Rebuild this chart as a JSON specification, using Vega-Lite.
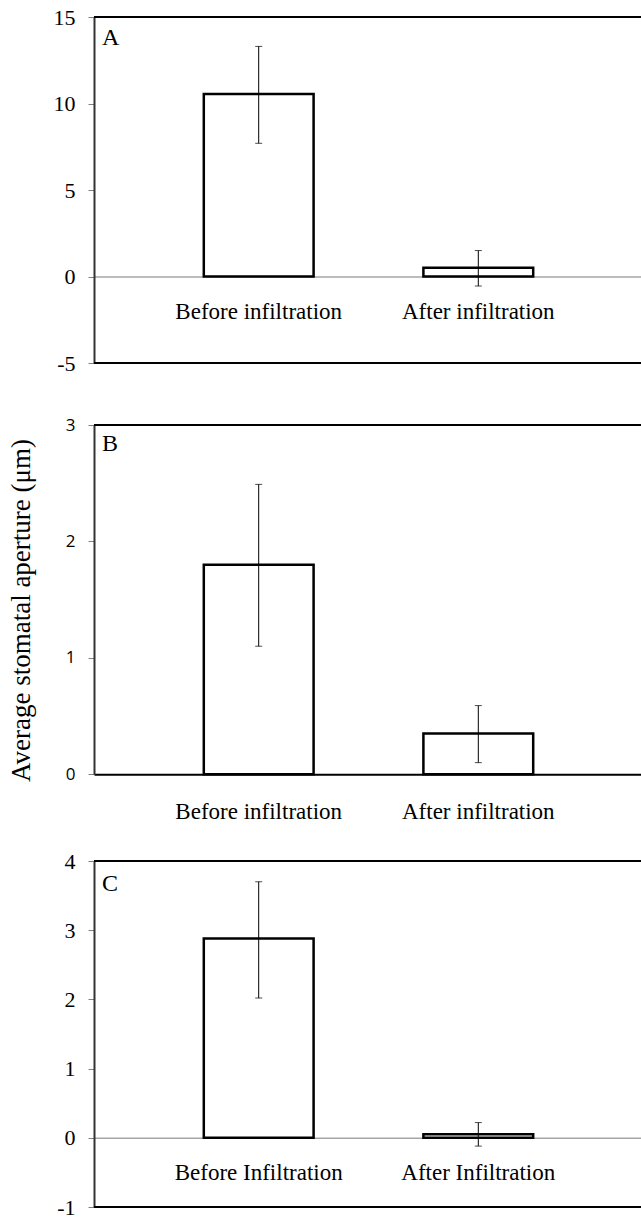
{
  "$schema": "https://vega.github.io/schema/vega-lite/v6.json",
  "background": "white",
  "padding": {"left": 7, "top": 6, "right": 0, "bottom": 0},
  "bounds": "flush",
  "spacing": 62,
  "config": {
    "view": {"stroke": null},
    "axis": {"grid": false, "labelColor": "black", "titleColor": "black"}
  },
  "vconcat": [
    {
      "width": 549,
      "height": 346,
      "title": {"text": "A", "anchor": "start", "frame": "group", "orient": "top", "offset": -56, "dx": 8, "font": "Liberation Serif", "fontSize": 24, "fontWeight": "normal", "color": "black", "baseline": "middle"},
      "data": {"values": [
        {"cond": "Before infiltration", "mean": 10.55, "lo": 7.7, "hi": 13.3},
        {"cond": "After infiltration", "mean": 0.5, "lo": -0.55, "hi": 1.5}
      ]},
      "layer": [
        {
          "mark": {"type": "bar", "fill": "white", "stroke": "black", "strokeWidth": 2.5},
          "encoding": {
            "x": {"field": "cond", "type": "nominal", "sort": null, "scale": {"paddingInner": 0.5, "paddingOuter": 0.5},
              "axis": {"orient": "bottom", "offset": -86.5, "domainColor": "#a6a6a6", "domainWidth": 1.5, "ticks": false, "tickSize": 0, "labelAngle": 0, "labelFont": "Liberation Serif", "labelFontSize": 23, "labelPadding": 24, "title": null}},
            "y": {"field": "mean", "type": "quantitative", "scale": {"domain": [-5, 15], "nice": false},
              "axis": {"values": [-5, 0, 5, 10, 15], "labelExpr": "'' + datum.value", "domainColor": "#333333", "domainWidth": 2, "tickColor": "#808080", "tickSize": 6, "tickWidth": 1, "labelFont": "Liberation Serif", "labelFontSize": 22, "labelPadding": 13, "title": null}},
            "y2": {"datum": 0}
          }
        },
        {
          "mark": {"type": "rule", "color": "black", "strokeWidth": 1},
          "encoding": {"x": {"field": "cond", "type": "nominal", "sort": null}, "y": {"field": "lo", "type": "quantitative"}, "y2": {"field": "hi"}}
        },
        {
          "mark": {"type": "tick", "color": "black", "thickness": 1, "size": 7},
          "encoding": {"x": {"field": "cond", "type": "nominal", "sort": null}, "y": {"field": "lo", "type": "quantitative"}}
        },
        {
          "mark": {"type": "tick", "color": "black", "thickness": 1, "size": 7},
          "encoding": {"x": {"field": "cond", "type": "nominal", "sort": null}, "y": {"field": "hi", "type": "quantitative"}}
        },
        {"mark": {"type": "rule", "color": "black", "strokeWidth": 2}, "encoding": {"y": {"datum": 15}}},
        {"mark": {"type": "rule", "color": "black", "strokeWidth": 2}, "encoding": {"y": {"datum": -5}}}
      ]
    },
    {
      "width": 549,
      "height": 373.9,
      "title": {"text": "B", "anchor": "start", "frame": "group", "orient": "top", "offset": -52, "dx": 8, "font": "Liberation Serif", "fontSize": 24, "fontWeight": "normal", "color": "black", "baseline": "middle"},
      "data": {"values": [
        {"cond": "Before infiltration", "mean": 1.8, "lo": 1.1, "hi": 2.49},
        {"cond": "After infiltration", "mean": 0.35, "lo": 0.1, "hi": 0.59}
      ]},
      "layer": [
        {
          "mark": {"type": "bar", "fill": "white", "stroke": "black", "strokeWidth": 2.5},
          "encoding": {
            "x": {"field": "cond", "type": "nominal", "sort": null, "scale": {"paddingInner": 0.5, "paddingOuter": 0.5},
              "axis": {"orient": "bottom", "offset": -24.6, "domainColor": "black", "domainWidth": 2, "ticks": false, "tickSize": 0, "labelAngle": 0, "labelFont": "Liberation Serif", "labelFontSize": 23, "labelPadding": 26, "title": null}},
            "y": {"field": "mean", "type": "quantitative", "scale": {"domain": [0, 3], "nice": false, "range": [349.3, 0]},
              "axis": {"values": [0, 1, 2, 3], "labelExpr": "'' + datum.value", "domainColor": "#333333", "domainWidth": 2, "tickColor": "#808080", "tickSize": 6, "tickWidth": 1, "labelFont": "Open Sans", "labelFontSize": 17, "labelPadding": 13,
                "title": "Average stomatal aperture (μm)", "titleFont": "Liberation Serif", "titleFontSize": 27, "titleFontWeight": "normal", "titlePadding": 30, "titleY": 185}},
            "y2": {"datum": 0}
          }
        },
        {
          "mark": {"type": "rule", "color": "black", "strokeWidth": 1},
          "encoding": {"x": {"field": "cond", "type": "nominal", "sort": null}, "y": {"field": "lo", "type": "quantitative"}, "y2": {"field": "hi"}}
        },
        {
          "mark": {"type": "tick", "color": "black", "thickness": 1, "size": 7},
          "encoding": {"x": {"field": "cond", "type": "nominal", "sort": null}, "y": {"field": "lo", "type": "quantitative"}}
        },
        {
          "mark": {"type": "tick", "color": "black", "thickness": 1, "size": 7},
          "encoding": {"x": {"field": "cond", "type": "nominal", "sort": null}, "y": {"field": "hi", "type": "quantitative"}}
        },
        {"mark": {"type": "rule", "color": "black", "strokeWidth": 2}, "encoding": {"y": {"datum": 3}}}
      ]
    },
    {
      "width": 549,
      "height": 346,
      "title": {"text": "C", "anchor": "start", "frame": "group", "orient": "top", "offset": -58, "dx": 8, "font": "Liberation Serif", "fontSize": 24, "fontWeight": "normal", "color": "black", "baseline": "middle"},
      "data": {"values": [
        {"cond": "Before Infiltration", "mean": 2.88, "lo": 2.02, "hi": 3.7},
        {"cond": "After Infiltration", "mean": 0.05, "lo": -0.12, "hi": 0.22}
      ]},
      "layer": [
        {
          "mark": {"type": "bar", "fill": "white", "stroke": "black", "strokeWidth": 2.5},
          "encoding": {
            "x": {"field": "cond", "type": "nominal", "sort": null, "scale": {"paddingInner": 0.5, "paddingOuter": 0.5},
              "axis": {"orient": "bottom", "offset": -69.2, "domainColor": "#a6a6a6", "domainWidth": 1.5, "ticks": false, "tickSize": 0, "labelAngle": 0, "labelFont": "Liberation Serif", "labelFontSize": 23, "labelPadding": 24, "title": null}},
            "y": {"field": "mean", "type": "quantitative", "scale": {"domain": [-1, 4], "nice": false},
              "axis": {"values": [-1, 0, 1, 2, 3, 4], "labelExpr": "'' + datum.value", "domainColor": "#333333", "domainWidth": 2, "tickColor": "#808080", "tickSize": 6, "tickWidth": 1, "labelFont": "Liberation Serif", "labelFontSize": 22, "labelPadding": 13, "title": null}},
            "y2": {"datum": 0}
          }
        },
        {
          "mark": {"type": "rule", "color": "black", "strokeWidth": 1},
          "encoding": {"x": {"field": "cond", "type": "nominal", "sort": null}, "y": {"field": "lo", "type": "quantitative"}, "y2": {"field": "hi"}}
        },
        {
          "mark": {"type": "tick", "color": "black", "thickness": 1, "size": 7},
          "encoding": {"x": {"field": "cond", "type": "nominal", "sort": null}, "y": {"field": "hi", "type": "quantitative"}}
        },
        {
          "mark": {"type": "tick", "color": "black", "thickness": 1, "size": 7},
          "encoding": {"x": {"field": "cond", "type": "nominal", "sort": null}, "y": {"field": "lo", "type": "quantitative"}}
        },
        {"mark": {"type": "rule", "color": "black", "strokeWidth": 2}, "encoding": {"y": {"datum": 4}}},
        {"mark": {"type": "rule", "color": "black", "strokeWidth": 2}, "encoding": {"y": {"datum": -1}}}
      ]
    }
  ]
}
